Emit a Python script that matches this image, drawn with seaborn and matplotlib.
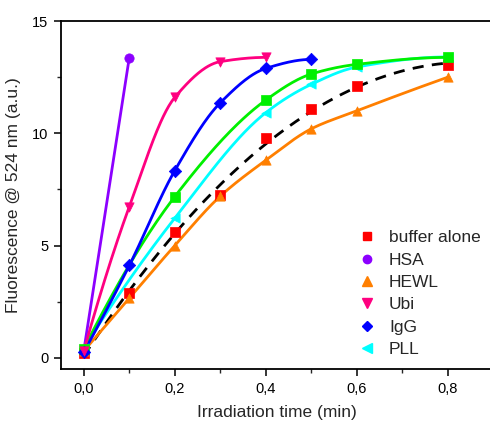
import numpy as np
import pandas as pd
import matplotlib
matplotlib.use("Agg")
import matplotlib.pyplot as plt
from matplotlib.lines import Line2D
from matplotlib.ticker import MultipleLocator, FuncFormatter
import seaborn as sns

# ---- data ----
buffer_x = [0.0, 0.1, 0.2, 0.3, 0.4, 0.5, 0.6, 0.8]
buffer_y = [0.2, 2.9, 5.6, 7.25, 9.8, 11.1, 12.1, 13.05]

hsa_x = [0.0, 0.1]
hsa_y = [0.3, 13.37]

hewl_x = [0.0, 0.1, 0.2, 0.3, 0.4, 0.5, 0.6, 0.8]
hewl_y = [0.3, 2.65, 5.0, 7.2, 8.8, 10.2, 11.0, 12.5]

ubi_x = [0.0, 0.1, 0.2, 0.3, 0.4]
ubi_y = [0.3, 6.73, 11.6, 13.19, 13.38]

igg_x = [0.0, 0.1, 0.2, 0.3, 0.4, 0.5]
igg_y = [0.25, 4.11, 8.34, 11.36, 12.89, 13.29]

green_x = [0.0, 0.2, 0.4, 0.5, 0.6, 0.8]
green_y = [0.4, 7.18, 11.48, 12.64, 13.07, 13.38]

pll_x = [0.0, 0.2, 0.4, 0.5, 0.6, 0.8]
pll_y = [0.45, 6.22, 10.92, 12.18, 12.95, 13.4]

legend_labels = ["buffer alone", "HSA", "HEWL", "Ubi", "IgG", "PLL"]
x_ticks = [0.0, 0.2, 0.4, 0.6, 0.8]
y_ticks = [0, 5, 10, 15]

# ---- helpers for the connecting curves ----
def pchip(x, y, xs):
    x = np.asarray(x, float); y = np.asarray(y, float)
    n = len(x)
    h = np.diff(x); d = np.diff(y) / h
    m = np.zeros(n)
    if n == 2:
        m[:] = d[0]
    else:
        for k in range(1, n - 1):
            if d[k - 1] * d[k] <= 0:
                m[k] = 0
            else:
                w1 = 2 * h[k] + h[k - 1]; w2 = h[k] + 2 * h[k - 1]
                m[k] = (w1 + w2) / (w1 / d[k - 1] + w2 / d[k])
        def end(h0, h1, d0, d1):
            mm = ((2 * h0 + h1) * d0 - h0 * d1) / (h0 + h1)
            if np.sign(mm) != np.sign(d0):
                mm = 0
            elif np.sign(d0) != np.sign(d1) and abs(mm) > abs(3 * d0):
                mm = 3 * d0
            return mm
        m[0] = end(h[0], h[1], d[0], d[1])
        m[-1] = end(h[-1], h[-2], d[-1], d[-2])
    out = np.empty_like(xs)
    idx = np.clip(np.searchsorted(x, xs) - 1, 0, n - 2)
    for i, (xv, k) in enumerate(zip(xs, idx)):
        t = (xv - x[k]) / h[k]
        h00 = 2 * t**3 - 3 * t**2 + 1; h10 = t**3 - 2 * t**2 + t
        h01 = -2 * t**3 + 3 * t**2; h11 = t**3 - t**2
        out[i] = h00 * y[k] + h10 * h[k] * m[k] + h01 * y[k + 1] + h11 * h[k] * m[k + 1]
    return out

def polyfit_curve(x, y, xs, deg=2):
    c = np.polyfit(np.asarray(x, float), np.asarray(y, float), deg)
    return np.polyval(c, xs)

# ---- figure ----
sns.set_theme(style="white")
plt.rcParams["font.family"] = ["Liberation Sans", "DejaVu Sans"]

fig = plt.figure(figsize=(4.90, 4.23), dpi=100)
ax = fig.add_axes([61 / 490, (423 - 369) / 423, 432.5 / 490, (369 - 21) / 423])

series = [
    ("buffer", buffer_x, buffer_y, "#FF0000", "s", "fit"),
    ("HSA", hsa_x, hsa_y, "#8C00FF", "o", "line"),
    ("HEWL", hewl_x, hewl_y, "#FF7F00", "^", "spline"),
    ("PLL", pll_x, pll_y, "#00FFFF", "<", "spline"),
    ("green", green_x, green_y, "#00F000", "s", "spline"),
    ("IgG", igg_x, igg_y, "#0000FF", "D", "spline"),
    ("Ubi", ubi_x, ubi_y, "#FF0080", "v", "spline"),
]

for name, xs_, ys_, col, mk, kind in series:
    xd = np.linspace(xs_[0], xs_[-1], 200)
    if kind == "fit":
        yd = polyfit_curve(xs_, ys_, xd)
        sns.lineplot(x=xd, y=yd, ax=ax, color="black", lw=2.0,
                     linestyle=(0, (4, 3)), zorder=2)
    else:
        yd = pchip(xs_, ys_, xd)
        sns.lineplot(x=xd, y=yd, ax=ax, color=col, lw=2.0, zorder=2)
    sizes = 45 if mk != "D" else 40
    sns.scatterplot(x=xs_, y=ys_, ax=ax, color=col, marker=mk, s=sizes,
                    edgecolor=col, linewidth=0.5, zorder=3)

ax.set_xlim(-0.05, 0.9)
ax.set_ylim(-0.5, 15)
ax.set_xticks(x_ticks)
ax.set_yticks(y_ticks)
ax.xaxis.set_minor_locator(MultipleLocator(0.1))
ax.yaxis.set_minor_locator(MultipleLocator(2.5))
ax.xaxis.set_major_formatter(FuncFormatter(lambda v, p: f"{v:.1f}".replace(".", ",")))
ax.yaxis.set_major_formatter(FuncFormatter(lambda v, p: f"{v:.0f}"))
ax.tick_params(axis="both", which="major", direction="out", length=5, width=1.1,
               labelsize=10.5, colors="black", bottom=True, left=True, pad=4)
ax.tick_params(axis="both", which="minor", direction="out", length=3, width=1.0,
               bottom=True, left=True)
ax.tick_params(axis="x", which="both", top=False)
ax.tick_params(axis="y", which="both", right=False)
for s in ["left", "bottom", "top"]:
    ax.spines[s].set_visible(True)
    ax.spines[s].set_color("black")
    ax.spines[s].set_linewidth(1.3)
ax.spines["right"].set_visible(False)

ax.set_xlabel("Irradiation time (min)", fontsize=12.5, labelpad=7)
ax.set_ylabel("Fluorescence @ 524 nm (a.u.)", fontsize=12.5, labelpad=8)

handles = [
    Line2D([], [], ls="none", marker="s", color="#FF0000", markersize=6),
    Line2D([], [], ls="none", marker="o", color="#8C00FF", markersize=6),
    Line2D([], [], ls="none", marker="^", color="#FF7F00", markersize=6.5),
    Line2D([], [], ls="none", marker="v", color="#FF0080", markersize=6.5),
    Line2D([], [], ls="none", marker="D", color="#0000FF", markersize=5.5),
    Line2D([], [], ls="none", marker="<", color="#00FFFF", markersize=6.5),
]
ax.legend(handles, legend_labels, loc="upper left",
          bbox_to_anchor=(357 / 490, 1 - 230 / 423), bbox_transform=fig.transFigure,
          frameon=False, fontsize=12.5, handletextpad=0.75, labelspacing=0.42,
          handlelength=1.1, borderaxespad=0, borderpad=0)

fig.savefig("out.png", dpi=100)
